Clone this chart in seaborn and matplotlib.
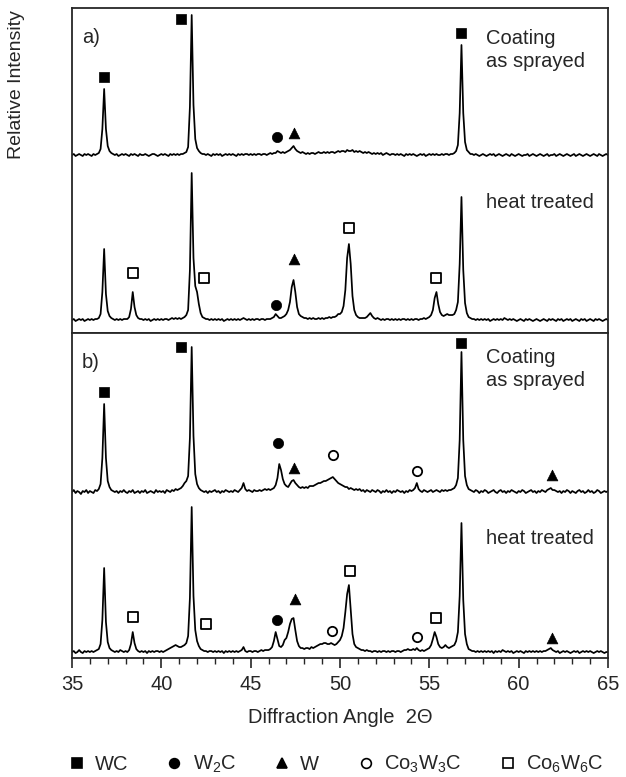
import numpy as np
import pandas as pd
import matplotlib.pyplot as plt
import seaborn as sns
from matplotlib.lines import Line2D
from matplotlib.ticker import MultipleLocator

# 2-theta grid of the scans (0.1 deg steps, 35..65)
angle = np.round(np.arange(35.0, 65.05, 0.1), 1)

# intensities (arbitrary units, one row per degree)
a_sprayed = [
    0, 1, -1, 0, 1, 0, -1, 1, 0, 1,
    0, -1, 1, 0, 1, 2, 6, 26, 66, 26,
    9, 4, 2, 1, 0, 1, -1, 0, 1, 0,
    1, 0, -1, 1, 0, 1, 0, -1, 1, 0,
    0, 1, 0, -1, 0, 1, 1, 0, -1, 0,
    1, 0, 1, 0, -1, 1, 0, 1, 0, 1,
    0, 1, 1, 2, 3, 8, 48, 140, 50, 16,
    7, 4, 2, 1, 1, 0, 1, 0, -1, 1,
    0, 1, 0, 1, -1, 0, 1, 0, 1, 0,
    1, 0, -1, 1, 0, 1, 0, 1, 1, 0,
    1, 0, 1, 0, 1, 1, 0, 1, 1, 0,
    1, 2, 1, 2, 2, 4, 3, 2, 3, 2,
    3, 4, 5, 7, 9, 6, 4, 3, 2, 3,
    2, 1, 2, 1, 2, 2, 1, 2, 3, 2,
    2, 3, 2, 3, 2, 3, 3, 2, 3, 4,
    3, 4, 4, 3, 5, 4, 4, 5, 3, 4,
    3, 4, 3, 2, 3, 2, 3, 2, 1, 2,
    1, 2, 1, 2, 0, 1, 2, 1, 0, 1,
    1, 0, 1, 0, 1, 0, -1, 1, 0, 1,
    0, 1, 0, -1, 0, 1, 0, 1, -1, 0,
    1, 0, 1, 0, 1, 0, 0, 1, 0, 1,
    1, 0, 1, 1, 2, 4, 10, 42, 110, 42,
    13, 5, 3, 1, 1, 0, 1, 0, -1, 0,
    1, 0, -1, 0, 1, 0, 1, -1, 0, 1,
    0, -1, 0, 1, 0, -1, 1, 0, -1, 0,
    1, 0, -1, 0, 0, 1, -1, 0, 1, 0,
    -1, 0, 1, 0, -1, 0, 1, -1, 0, 0,
    1, -1, 0, 1, 0, -1, 0, 1, 0, -1,
    0, 1, -1, 0, 1, 0, -1, 0, 1, 0,
    -1, 0, 1, 0, -1, 1, 0, -1, 0, 1,
    0,
]

a_heat = [
    0, 1, -1, 0, 1, 0, 1, -1, 0, 1,
    0, 1, 0, 1, 1, 2, 6, 28, 71, 26,
    9, 4, 2, 1, 0, 1, 0, 1, 0, 1,
    1, 1, 3, 11, 28, 13, 5, 2, 1, 1,
    0, 1, 0, 1, -1, 0, 1, 0, 1, 0,
    1, 0, 1, 1, 0, 1, 2, 1, 2, 1,
    2, 1, 2, 3, 5, 10, 50, 147, 62, 34,
    28, 16, 7, 3, 2, 1, 1, 0, 1, 0,
    1, 0, 1, 0, 1, -1, 0, 1, 0, 1,
    0, 1, 0, 1, 0, 1, 2, 1, 0, 1,
    0, 1, 0, 1, 1, 0, 1, 1, 0, 1,
    1, 1, 2, 3, 6, 4, 2, 2, 3, 4,
    6, 10, 18, 33, 40, 28, 13, 6, 4, 3,
    2, 2, 1, 2, 1, 2, 1, 1, 2, 1,
    2, 1, 2, 2, 3, 2, 3, 3, 4, 6,
    6, 8, 14, 30, 62, 76, 56, 24, 10, 5,
    3, 2, 2, 2, 2, 3, 5, 7, 4, 2,
    1, 2, 1, 0, 1, 0, 1, 1, 0, 1,
    0, 1, 0, 1, 0, 1, 1, 0, 1, 0,
    1, 0, 1, 1, 0, 1, 1, 2, 1, 2,
    3, 5, 10, 22, 28, 16, 8, 5, 4, 5,
    6, 5, 5, 5, 6, 10, 18, 56, 123, 50,
    17, 7, 3, 2, 1, 1, 0, 1, 0, 1,
    0, 1, 0, 1, -1, 0, 1, 0, 1, 0,
    1, 0, 2, 1, 0, 1, 0, 1, 0, -1,
    0, 1, 0, -1, 1, 0, 1, 0, -1, 0,
    1, 0, -1, 0, 1, 0, -1, 1, 0, 1,
    0, -1, 1, 0, 1, -1, 0, 1, 0, 1,
    -1, 0, 1, 0, -1, 1, 0, 1, -1, 0,
    1, 0, -1, 1, 0, 1, 0, -1, 0, 1,
    0,
]

b_sprayed = [
    0, 2, -1, 1, 0, -2, 1, 0, 2, -1,
    1, 0, -1, 2, 1, 3, 8, 34, 88, 34,
    11, 5, 2, 1, 0, 1, -1, 1, 0, 2,
    0, -1, 1, 0, 2, -1, 0, 1, -1, 1,
    0, 2, -1, 0, 1, 0, -1, 2, 0, 1,
    0, 1, -1, 2, 1, 0, 2, 1, 3, 2,
    3, 4, 6, 9, 11, 16, 54, 145, 56, 18,
    8, 4, 2, 1, 0, 1, -1, 1, 0, 1,
    2, 0, 1, -1, 1, 0, 2, 1, 0, 1,
    0, 2, 1, 0, 2, 4, 9, 3, 1, 2,
    1, 0, 2, 1, 1, 2, 1, 2, 3, 2,
    3, 2, 3, 4, 7, 14, 28, 22, 13, 8,
    6, 5, 8, 11, 12, 9, 7, 5, 4, 5,
    4, 5, 4, 6, 6, 6, 7, 8, 9, 9,
    10, 11, 11, 12, 13, 14, 15, 13, 11, 9,
    8, 7, 6, 5, 5, 3, 4, 3, 2, 3,
    2, 3, 1, 2, 0, 2, 1, 0, 2, 1,
    0, 2, 1, -1, 1, 0, 2, 0, 1, -1,
    1, 0, 2, 1, 0, 1, -1, 1, 0, 2,
    1, 2, 4, 9, 3, 1, 0, 2, 1, 0,
    1, 2, 0, 1, 2, 1, 0, 2, 1, 2,
    1, 2, 2, 3, 4, 7, 14, 52, 140, 52,
    16, 7, 3, 2, 1, 0, 2, 1, -1, 1,
    0, 2, 1, -1, 0, 1, 2, 0, -1, 1,
    2, 0, 1, -1, 1, 0, 2, 1, 0, -1,
    1, 0, 2, 1, -1, 0, 1, 2, 0, 1,
    -1, 1, 0, 2, 1, 0, 2, 3, 4, 2,
    2, 1, 0, 1, -1, 1, 0, 2, 1, -1,
    1, 0, -1, 1, 2, 0, 1, -1, 0, 2,
    0, 1, -1, 0, 2, 1, -1, 0, 1, 0,
    1,
]

b_heat = [
    0, 1, -1, 0, 2, 0, -1, 1, 0, 1,
    0, 1, 0, 1, 2, 3, 8, 32, 84, 30,
    10, 4, 2, 1, 0, 1, 0, 2, 1, 0,
    1, 0, 2, 8, 20, 9, 3, 1, 0, 1,
    0, 1, -1, 1, 0, 1, 0, 1, 1, 0,
    1, 0, 1, 2, 3, 4, 5, 6, 7, 6,
    5, 5, 6, 7, 9, 16, 54, 145, 56, 22,
    11, 6, 3, 2, 1, 1, 0, 1, 1, 0,
    1, 0, 1, 0, 1, -1, 1, 0, 1, 0,
    1, 0, 1, 0, 1, 2, 5, 1, 0, 1,
    1, 0, 1, 1, 0, 1, 2, 1, 2, 2,
    2, 3, 5, 11, 20, 13, 6, 5, 7, 12,
    14, 20, 28, 33, 34, 22, 11, 6, 4, 4,
    3, 4, 4, 3, 5, 4, 5, 6, 7, 8,
    8, 9, 9, 8, 8, 9, 8, 7, 8, 10,
    12, 16, 24, 40, 58, 67, 42, 18, 8, 5,
    4, 3, 2, 2, 1, 2, 1, 1, 0, 1,
    1, 0, 1, 0, 1, 1, 0, 1, 0, 1,
    1, 0, 1, 1, 0, 1, 2, 2, 3, 2,
    2, 3, 2, 4, 2, 1, 2, 1, 2, 3,
    4, 7, 13, 20, 15, 8, 5, 4, 5, 7,
    5, 4, 5, 6, 7, 11, 20, 56, 129, 52,
    18, 8, 3, 2, 1, 1, 0, 1, 0, 1,
    0, 1, 0, 1, 0, 1, -1, 1, 0, 1,
    0, 2, 1, 0, 1, 0, 1, -1, 0, 1,
    0, 1, 0, -1, 1, 0, 1, 0, 1, 0,
    1, 0, 1, 0, 1, 1, 2, 3, 4, 2,
    1, 0, 1, -1, 0, 1, 0, 1, 0, -1,
    0, 1, 0, 1, -1, 0, 1, 0, 1, 0,
    1, 0, -1, 0, 1, 0, 1, 0, -1, 0,
    0,
]

# phase labels above the peaks: (phase, 2theta, height in panel units)
marks_a = [
    ("WC", 36.8, 256), ("WC", 41.1, 314), ("WC", 56.8, 300),
    ("W2C", 46.5, 196), ("W", 47.4, 200),
    ("Co6W6C", 38.4, 60), ("Co6W6C", 42.4, 55), ("Co6W6C", 50.5, 105),
    ("Co6W6C", 55.35, 55), ("W2C", 46.4, 28), ("W", 47.4, 74),
]
marks_b = [
    ("WC", 36.8, 266), ("WC", 41.1, 311), ("WC", 56.8, 315),
    ("W2C", 46.55, 215), ("W", 47.45, 190), ("W", 61.85, 183),
    ("Co3W3C", 49.6, 203), ("Co3W3C", 54.3, 187),
    ("Co6W6C", 38.4, 41), ("Co6W6C", 42.5, 34), ("Co6W6C", 50.55, 87),
    ("Co6W6C", 55.35, 40), ("W2C", 46.45, 38), ("W", 47.5, 59),
    ("W", 61.85, 20), ("Co3W3C", 49.55, 27), ("Co3W3C", 54.3, 21),
]

phases = ["WC", "W2C", "W", "Co3W3C", "Co6W6C"]
phase_names = ["WC", "W$_2$C", "W", "Co$_3$W$_3$C", "Co$_6$W$_6$C"]
phase_style = {
    "WC": dict(marker="s", filled=True, s=45),
    "W2C": dict(marker="o", filled=True, s=55),
    "W": dict(marker="^", filled=True, s=60),
    "Co3W3C": dict(marker="o", filled=False, s=45),
    "Co6W6C": dict(marker="s", filled=False, s=50),
}

sns.set_style("ticks")
plt.rcParams["font.family"] = ["Liberation Sans", "DejaVu Sans"]
plt.rcParams["mathtext.default"] = "regular"
plt.rcParams["font.size"] = 14

fig = plt.figure(figsize=(6.26, 7.77), dpi=100)
ax_a = fig.add_axes([0.1150, 0.5714, 0.8562, 0.4183])
ax_b = fig.add_axes([0.1150, 0.1531, 0.8562, 0.4183])

panels = [
    (ax_a, a_sprayed, a_heat, 178, 13, marks_a, 325, "a)", 283, 131),
    (ax_b, b_sprayed, b_heat, 166, 6, marks_b, 325, "b)", 289, 120),
]

for ax, sprayed, heat, off_s, off_h, marks, top, tag, y_coat, y_heat in panels:
    df = pd.DataFrame({"angle": angle,
                       "sprayed": np.array(sprayed) + off_s,
                       "heat": np.array(heat) + off_h})
    sns.lineplot(data=df, x="angle", y="sprayed", ax=ax, color="black",
                 lw=1.25, estimator=None)
    sns.lineplot(data=df, x="angle", y="heat", ax=ax, color="black",
                 lw=1.25, estimator=None)

    mk = pd.DataFrame(marks, columns=["phase", "angle", "y"])
    for ph in phases:
        sub = mk[mk["phase"] == ph]
        if sub.empty:
            continue
        st = phase_style[ph]
        if st["filled"]:
            sns.scatterplot(data=sub, x="angle", y="y", ax=ax, marker=st["marker"],
                            s=st["s"], color="black", edgecolor="black", linewidth=0.5,
                            zorder=5)
        else:
            sns.scatterplot(data=sub, x="angle", y="y", ax=ax, marker=st["marker"],
                            s=st["s"], facecolor="white", edgecolor="black",
                            linewidth=1.3, zorder=5)

    ax.set_xlim(35, 65)
    ax.set_ylim(0, top)
    ax.set_yticks([])
    ax.set_ylabel("")
    ax.set_xlabel("")
    for sp in ax.spines.values():
        sp.set_linewidth(1.3)
        sp.set_visible(True)

    ax.text(35.55, top - 29, tag, fontsize=14.5, va="center", ha="left")
    ax.text(58.2, y_coat, "Coating\nas sprayed", fontsize=14.5, va="center", ha="left",
            linespacing=1.3)
    ax.text(58.2, y_heat, "heat treated", fontsize=14.5, va="center", ha="left")

ax_a.tick_params(axis="x", which="both", bottom=False, labelbottom=False)
ax_b.xaxis.set_major_locator(MultipleLocator(5))
ax_b.xaxis.set_minor_locator(MultipleLocator(1))
ax_b.tick_params(axis="x", which="major", direction="out", length=7, width=1.2,
                 labelsize=14.5, pad=5)
ax_b.tick_params(axis="x", which="minor", direction="out", length=4, width=1.0)
ax_b.set_xlabel("Diffraction Angle  2\u0398", fontsize=14.5, labelpad=10)

fig.text(0.026, 0.987, "Relative Intensity", rotation=90, va="top", ha="center",
         fontsize=14)

handles = []
for ph in phases:
    st = phase_style[ph]
    handles.append(Line2D([], [], ls="none", marker=st["marker"], markersize=7,
                          markerfacecolor="black" if st["filled"] else "white",
                          markeredgecolor="black", markeredgewidth=1.2))
fig.legend(handles, phase_names, loc="center", bbox_to_anchor=(0.535, 0.016),
           ncol=5, frameon=False, fontsize=14.5, columnspacing=1.8,
           handletextpad=0.4, handlelength=1.0)

fig.savefig("out.png", dpi=100)
